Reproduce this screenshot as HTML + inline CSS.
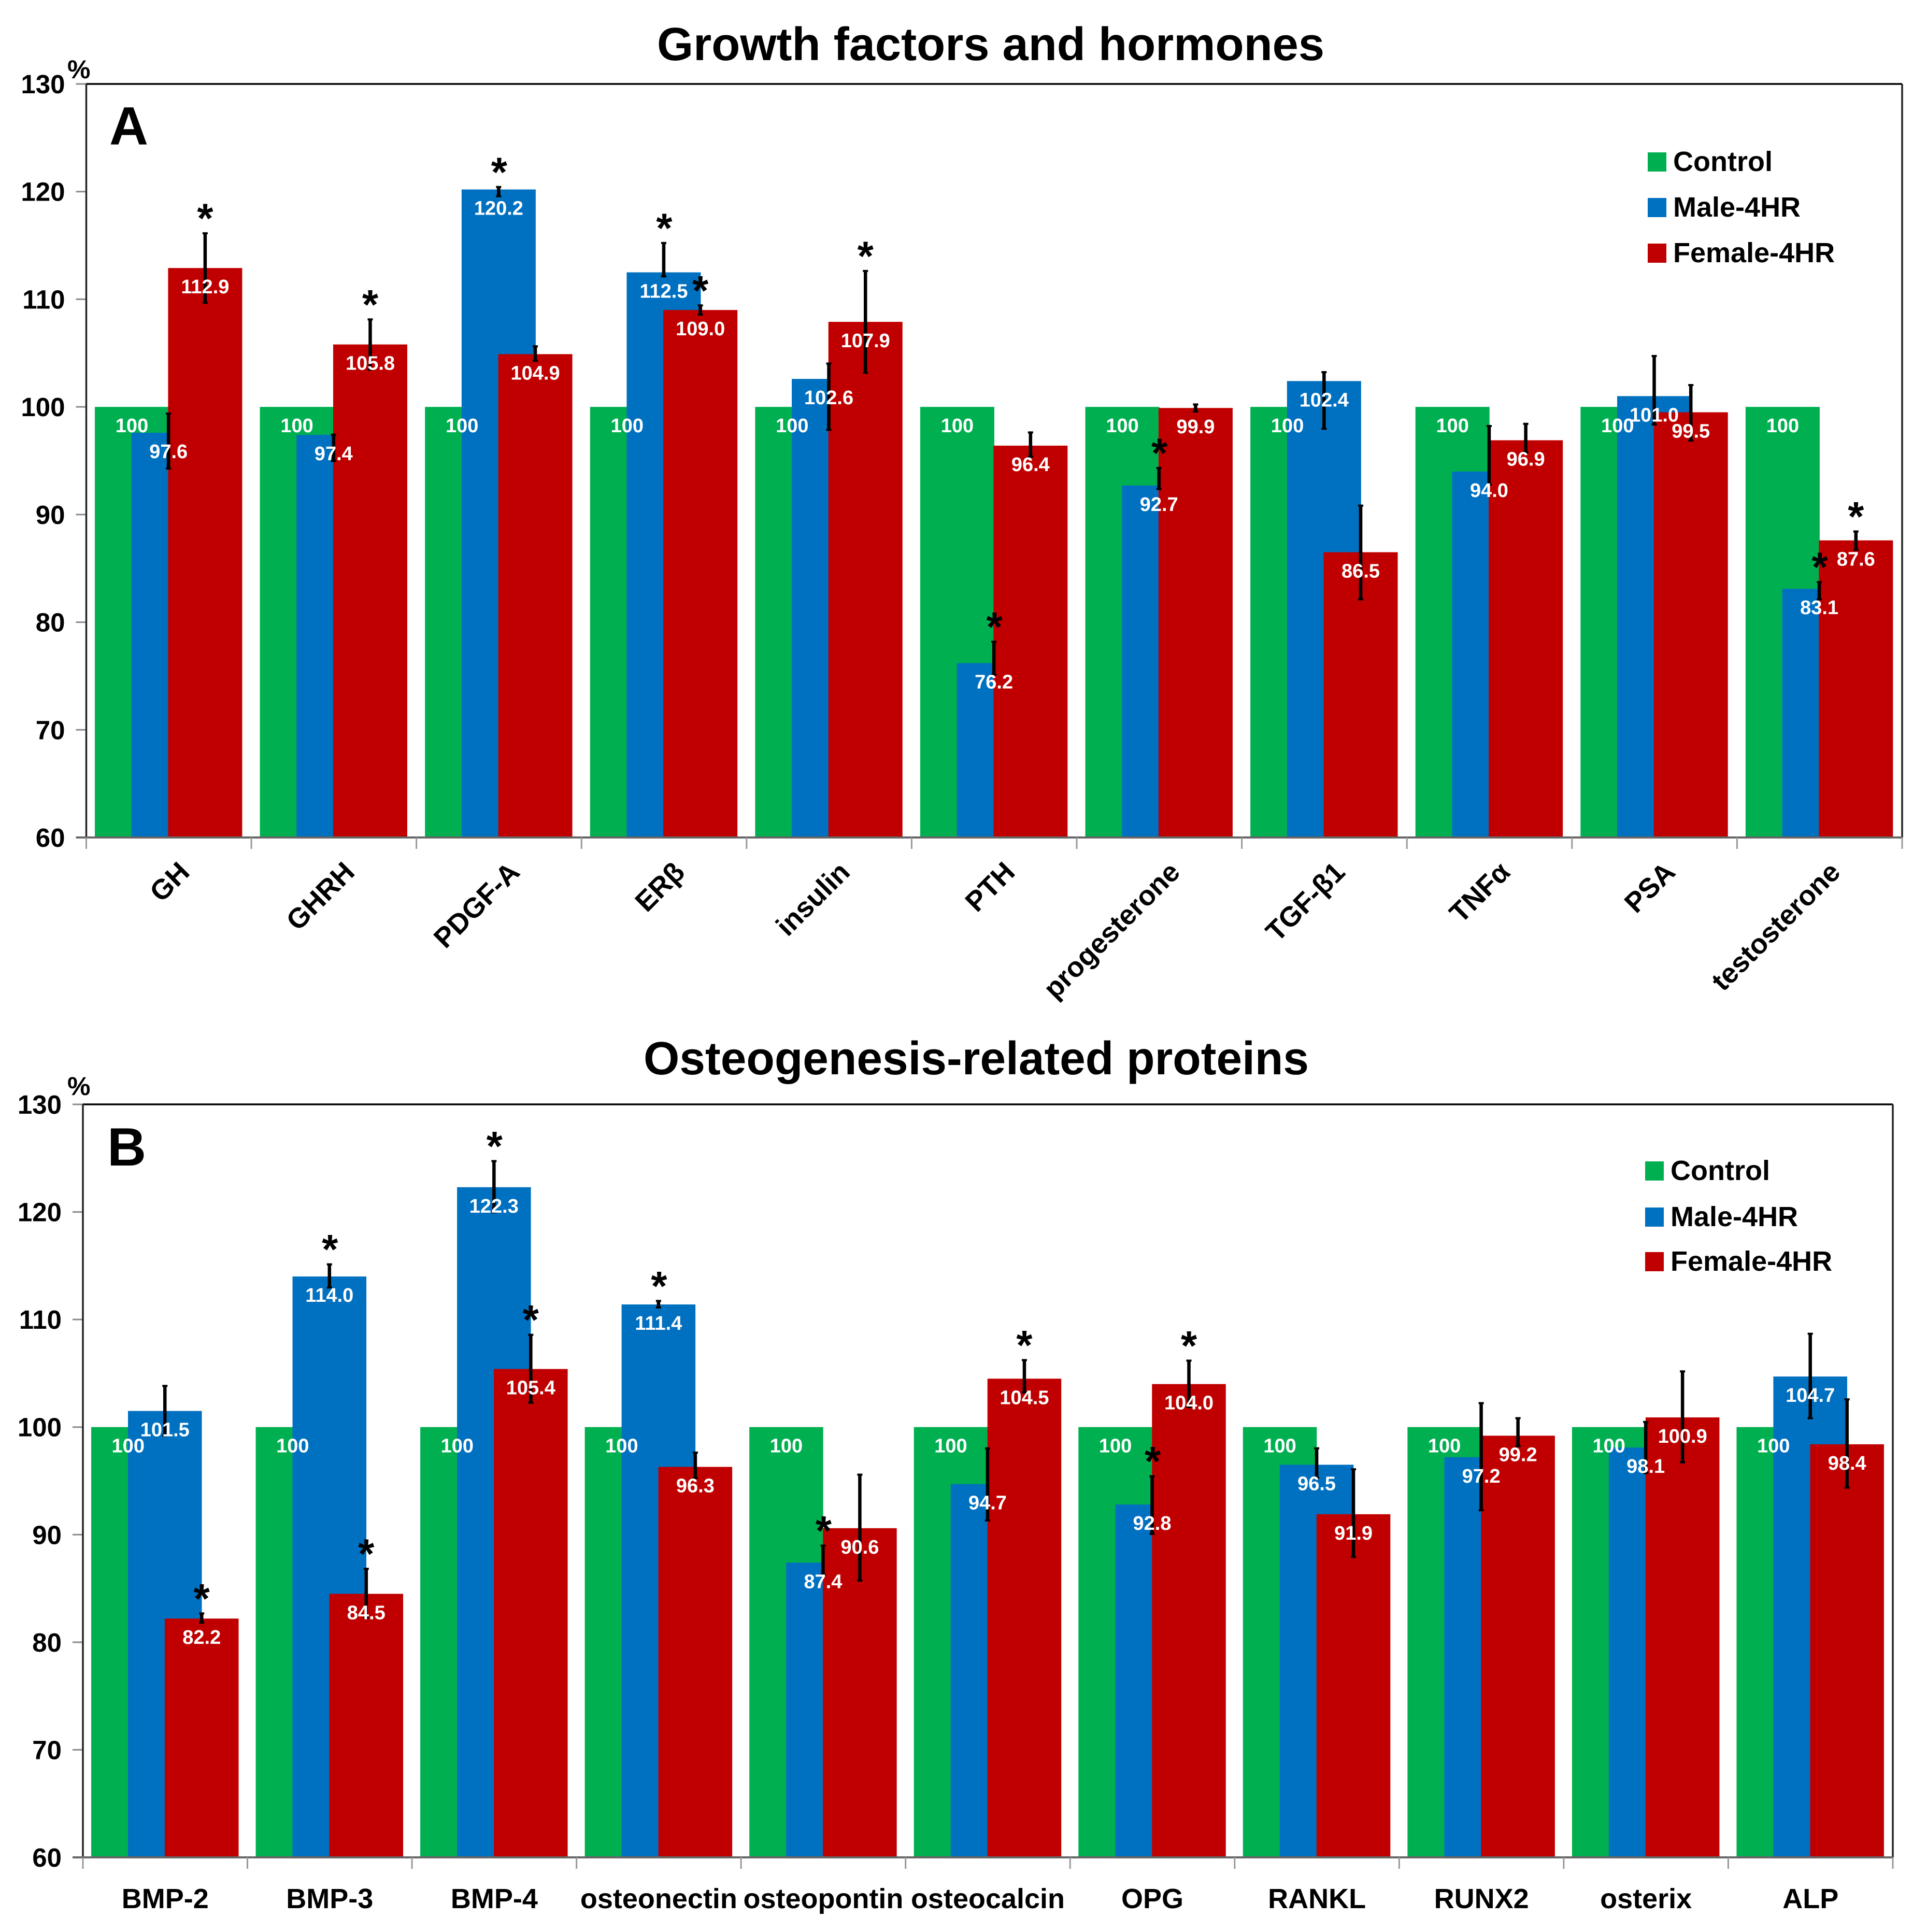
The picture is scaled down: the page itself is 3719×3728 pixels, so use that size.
<!DOCTYPE html>
<html lang="en">
<head>
<meta charset="utf-8">
<title>Growth factors and osteogenesis-related proteins</title>
<style>
html,body{margin:0;padding:0;background:#fff;}
svg{display:block;}
text{font-family:"Liberation Sans","DejaVu Sans",sans-serif;font-weight:bold;}
</style>
</head>
<body>
<svg id="figure" xmlns="http://www.w3.org/2000/svg" width="3719" height="3728" viewBox="0 0 3719 3728"></svg>
<script>
var tickLabels = [60, 70, 80, 90, 100, 110, 120, 130];
var seriesNames = ['Control', 'Male-4HR', 'Female-4HR'];

var categoriesA = ['GH','GHRH','PDGF-A','ERβ','insulin','PTH','progesterone','TGF-β1','TNFα','PSA','testosterone'];
var controlA = [100,100,100,100,100,100,100,100,100,100,100];
var maleA = [97.6,97.4,120.2,112.5,102.6,76.2,92.7,102.4,94.0,101.0,83.1];
var femaleA = [112.9,105.8,104.9,109.0,107.9,96.4,99.9,86.5,96.9,99.5,87.6];
var maleHiA = [99.45,97.5,120.5,115.3,104.1,78.25,94.4,103.3,98.3,104.8,83.8];
var maleLoA = [94.2,94.9,119.5,112.05,97.8,75.05,92.3,97.9,92.7,98.3,82.05];
var femaleHiA = [116.2,108.2,105.7,109.5,112.7,97.7,100.3,90.9,98.5,102.1,88.5];
var femaleLoA = [109.6,103.4,104.2,108.5,103.1,95.3,99.5,82.05,95.7,96.8,86.65];
var maleSigA = [0,0,1,1,0,1,1,0,0,0,1];
var femaleSigA = [1,1,0,1,1,0,0,0,0,0,1];

var categoriesB = ['BMP-2','BMP-3','BMP-4','osteonectin','osteopontin','osteocalcin','OPG','RANKL','RUNX2','osterix','ALP'];
var controlB = [100,100,100,100,100,100,100,100,100,100,100];
var maleB = [101.5,114.0,122.3,111.4,87.4,94.7,92.8,96.5,97.2,98.1,104.7];
var femaleB = [82.2,84.5,105.4,96.3,90.6,104.5,104.0,91.9,99.2,100.9,98.4];
var maleHiB = [103.9,115.2,124.8,111.8,89.05,98.1,95.5,98.1,102.3,100.55,108.75];
var maleLoB = [99.15,112.9,119.9,111.05,86.2,91.25,90.0,95.2,92.2,95.65,100.75];
var femaleHiB = [82.75,86.9,108.65,97.7,95.65,106.3,106.25,96.15,100.9,105.25,102.65];
var femaleLoB = [81.75,82.2,102.2,95.2,85.65,103.15,101.8,87.85,98.15,96.65,94.3];
var maleSigB = [0,1,1,1,1,0,1,0,0,0,0];
var femaleSigB = [1,1,1,0,0,1,1,0,0,0,0];

var colors = ['#00B050', '#0070C0', '#C00000'];
var svg = document.getElementById('figure');
var NS = 'http://www.w3.org/2000/svg';

function make(tag, attrs, parent, content) {
  var e = document.createElementNS(NS, tag);
  for (var k in attrs) { e.setAttribute(k, attrs[k]); }
  if (content !== undefined) { e.textContent = content; }
  (parent || svg).appendChild(e);
  return e;
}

function drawPanel(p) {
  var g = make('g', {}, svg);
  
  

  function yScale(v) { return p.top + (130 - v) * (p.bottom - p.top) / 70; }
  function groupX(i) { return p.left + i * (p.right - p.left) / p.categories.length; }
  function barX(i, s) { return groupX(i) + p.inset + s * p.step; }
  function barCenter(i, s) { return barX(i, s) + p.barWidth / 2; }

  var title = make('text', {x: p.titleX, y: p.titleY, 'font-size': 90, 'text-anchor': 'middle', fill: '#000', textLength: p.titleWidth, lengthAdjust: 'spacingAndGlyphs'}, g, p.title);
  
  

  var percent = make('text', {x: p.percentX, y: p.percentY, 'font-size': 50, fill: '#000'}, g, '%');
  
  

  tickLabels.forEach(function (t) {
    var tick = make('line', {x1: p.left - 20, x2: p.left, y1: yScale(t), y2: yScale(t), stroke: '#8a8a8a', 'stroke-width': 3}, g);
    
    
    var lab = make('text', {x: p.left - 41, y: yScale(t) + 18, 'font-size': 51, 'text-anchor': 'end', fill: '#000'}, g, String(t));
    
    
  });

  p.categories.forEach(function (c, i) {
    [p.control, p.male, p.female].forEach(function (vals, s) {
      var y = yScale(vals[i]);
      var bar = make('rect', {x: barX(i, s), y: y, width: p.barWidth, height: yScale(60) - y, fill: colors[s]}, g);
      
      
    });
  });

  var frame = [
    [p.left, p.top, p.right, p.top, '#000', 3.5, 'axis-top'],
    [p.left, p.top, p.left, p.bottom, '#222', 3.5, 'y-axis-line'],
    [p.right, p.top, p.right, p.bottom, '#222', 3.5, 'axis-right'],
    [p.left - 20, p.bottom, p.right, p.bottom, '#666', 4, 'x-axis-line']
  ];
  frame.forEach(function (f) {
    var ln = make('line', {x1: f[0], y1: f[1], x2: f[2], y2: f[3], stroke: f[4], 'stroke-width': f[5]}, g);
    
    
  });

  for (var i = 0; i <= p.categories.length; i++) {
    var xt = make('line', {x1: groupX(i), x2: groupX(i), y1: p.bottom, y2: p.bottom + 22, stroke: '#999', 'stroke-width': 3}, g);
    
    
  }

  function errorBar(i, s, hi, lo, name) {
    var cx = barCenter(i, s);
    var eg = make('g', {}, g);
    
    
    make('line', {x1: cx, x2: cx, y1: yScale(hi), y2: yScale(lo), stroke: '#000', 'stroke-width': 6.5}, eg);
    make('line', {x1: cx - 5, x2: cx + 5, y1: yScale(hi) + 1.5, y2: yScale(hi) + 1.5, stroke: '#000', 'stroke-width': 4}, eg);
    make('line', {x1: cx - 5, x2: cx + 5, y1: yScale(lo) - 1.5, y2: yScale(lo) - 1.5, stroke: '#000', 'stroke-width': 4}, eg);
  }

  p.categories.forEach(function (c, i) {
    errorBar(i, 1, p.maleHi[i], p.maleLo[i], 'male');
    errorBar(i, 2, p.femaleHi[i], p.femaleLo[i], 'female');
  });

  p.categories.forEach(function (c, i) {
    [p.control, p.male, p.female].forEach(function (vals, s) {
      var txt = s === 0 ? String(vals[i]) : vals[i].toFixed(1);
      var dl = make('text', {x: barCenter(i, s), y: yScale(vals[i]) + 49, 'font-size': 38, 'text-anchor': 'middle', fill: '#fff'}, g, txt);
      
      
    });
    if (p.maleSig[i]) {
      var sm = make('text', {x: barCenter(i, 1) + 1, y: yScale(p.maleHi[i]) + 0, 'font-size': 80, 'text-anchor': 'middle', fill: '#000'}, g, '*');
      
      
    }
    if (p.femaleSig[i]) {
      var sf = make('text', {x: barCenter(i, 2), y: yScale(p.femaleHi[i]) + 0, 'font-size': 80, 'text-anchor': 'middle', fill: '#000'}, g, '*');
      
      
    }
    var center = (groupX(i) + groupX(i + 1)) / 2;
    var cat;
    if (p.rotated) {
      var ax = center + 43, ay = p.labelY;
      cat = make('text', {x: ax, y: ay, 'font-size': 54, 'text-anchor': 'end', fill: '#000', transform: 'rotate(-45 ' + ax + ' ' + ay + ')'}, g, c);
    } else {
      cat = make('text', {x: center, y: p.labelY, 'font-size': 54, 'text-anchor': 'middle', fill: '#000'}, g, c);
    }
    
    
  });

  var letter = make('text', {x: p.letterX, y: p.letterY, 'font-size': 104, fill: '#000'}, g, p.letter);
  
  

  seriesNames.forEach(function (n, s) {
    var lg = make('g', {}, g);
    
    
    var base = p.legendBase[s];
    make('rect', {x: p.legendX, y: base - 36, width: 36, height: 37, fill: colors[s]}, lg);
    make('text', {x: p.legendX + 49, y: base, 'font-size': 54, fill: '#000'}, lg, n);
  });
}

drawPanel({
  letter: 'A', title: 'Growth factors and hormones', titleX: 1912, titleY: 116, titleWidth: 1288,
  percentX: 130, percentY: 151, letterX: 211, letterY: 279,
  left: 166.5, right: 3671, top: 162, bottom: 1616, inset: 16.5, step: 70.7, barWidth: 143,
  categories: categoriesA, control: controlA, male: maleA, female: femaleA,
  maleHi: maleHiA, maleLo: maleLoA, femaleHi: femaleHiA, femaleLo: femaleLoA,
  maleSig: maleSigA, femaleSig: femaleSigA,
  rotated: true, labelY: 1686,
  legendX: 3180, legendBase: [330, 418, 506]
});

drawPanel({
  letter: 'B', title: 'Osteogenesis-related proteins', titleX: 1884, titleY: 2073, titleWidth: 1284,
  percentX: 130, percentY: 2113, letterX: 207, letterY: 2249,
  left: 160, right: 3653, top: 2131, bottom: 3584, inset: 16, step: 71, barWidth: 142.5,
  categories: categoriesB, control: controlB, male: maleB, female: femaleB,
  maleHi: maleHiB, maleLo: maleLoB, femaleHi: femaleHiB, femaleLo: femaleLoB,
  maleSig: maleSigB, femaleSig: femaleSigB,
  rotated: false, labelY: 3682,
  legendX: 3175, legendBase: [2277, 2366, 2452]
});
</script>
</body>
</html>
